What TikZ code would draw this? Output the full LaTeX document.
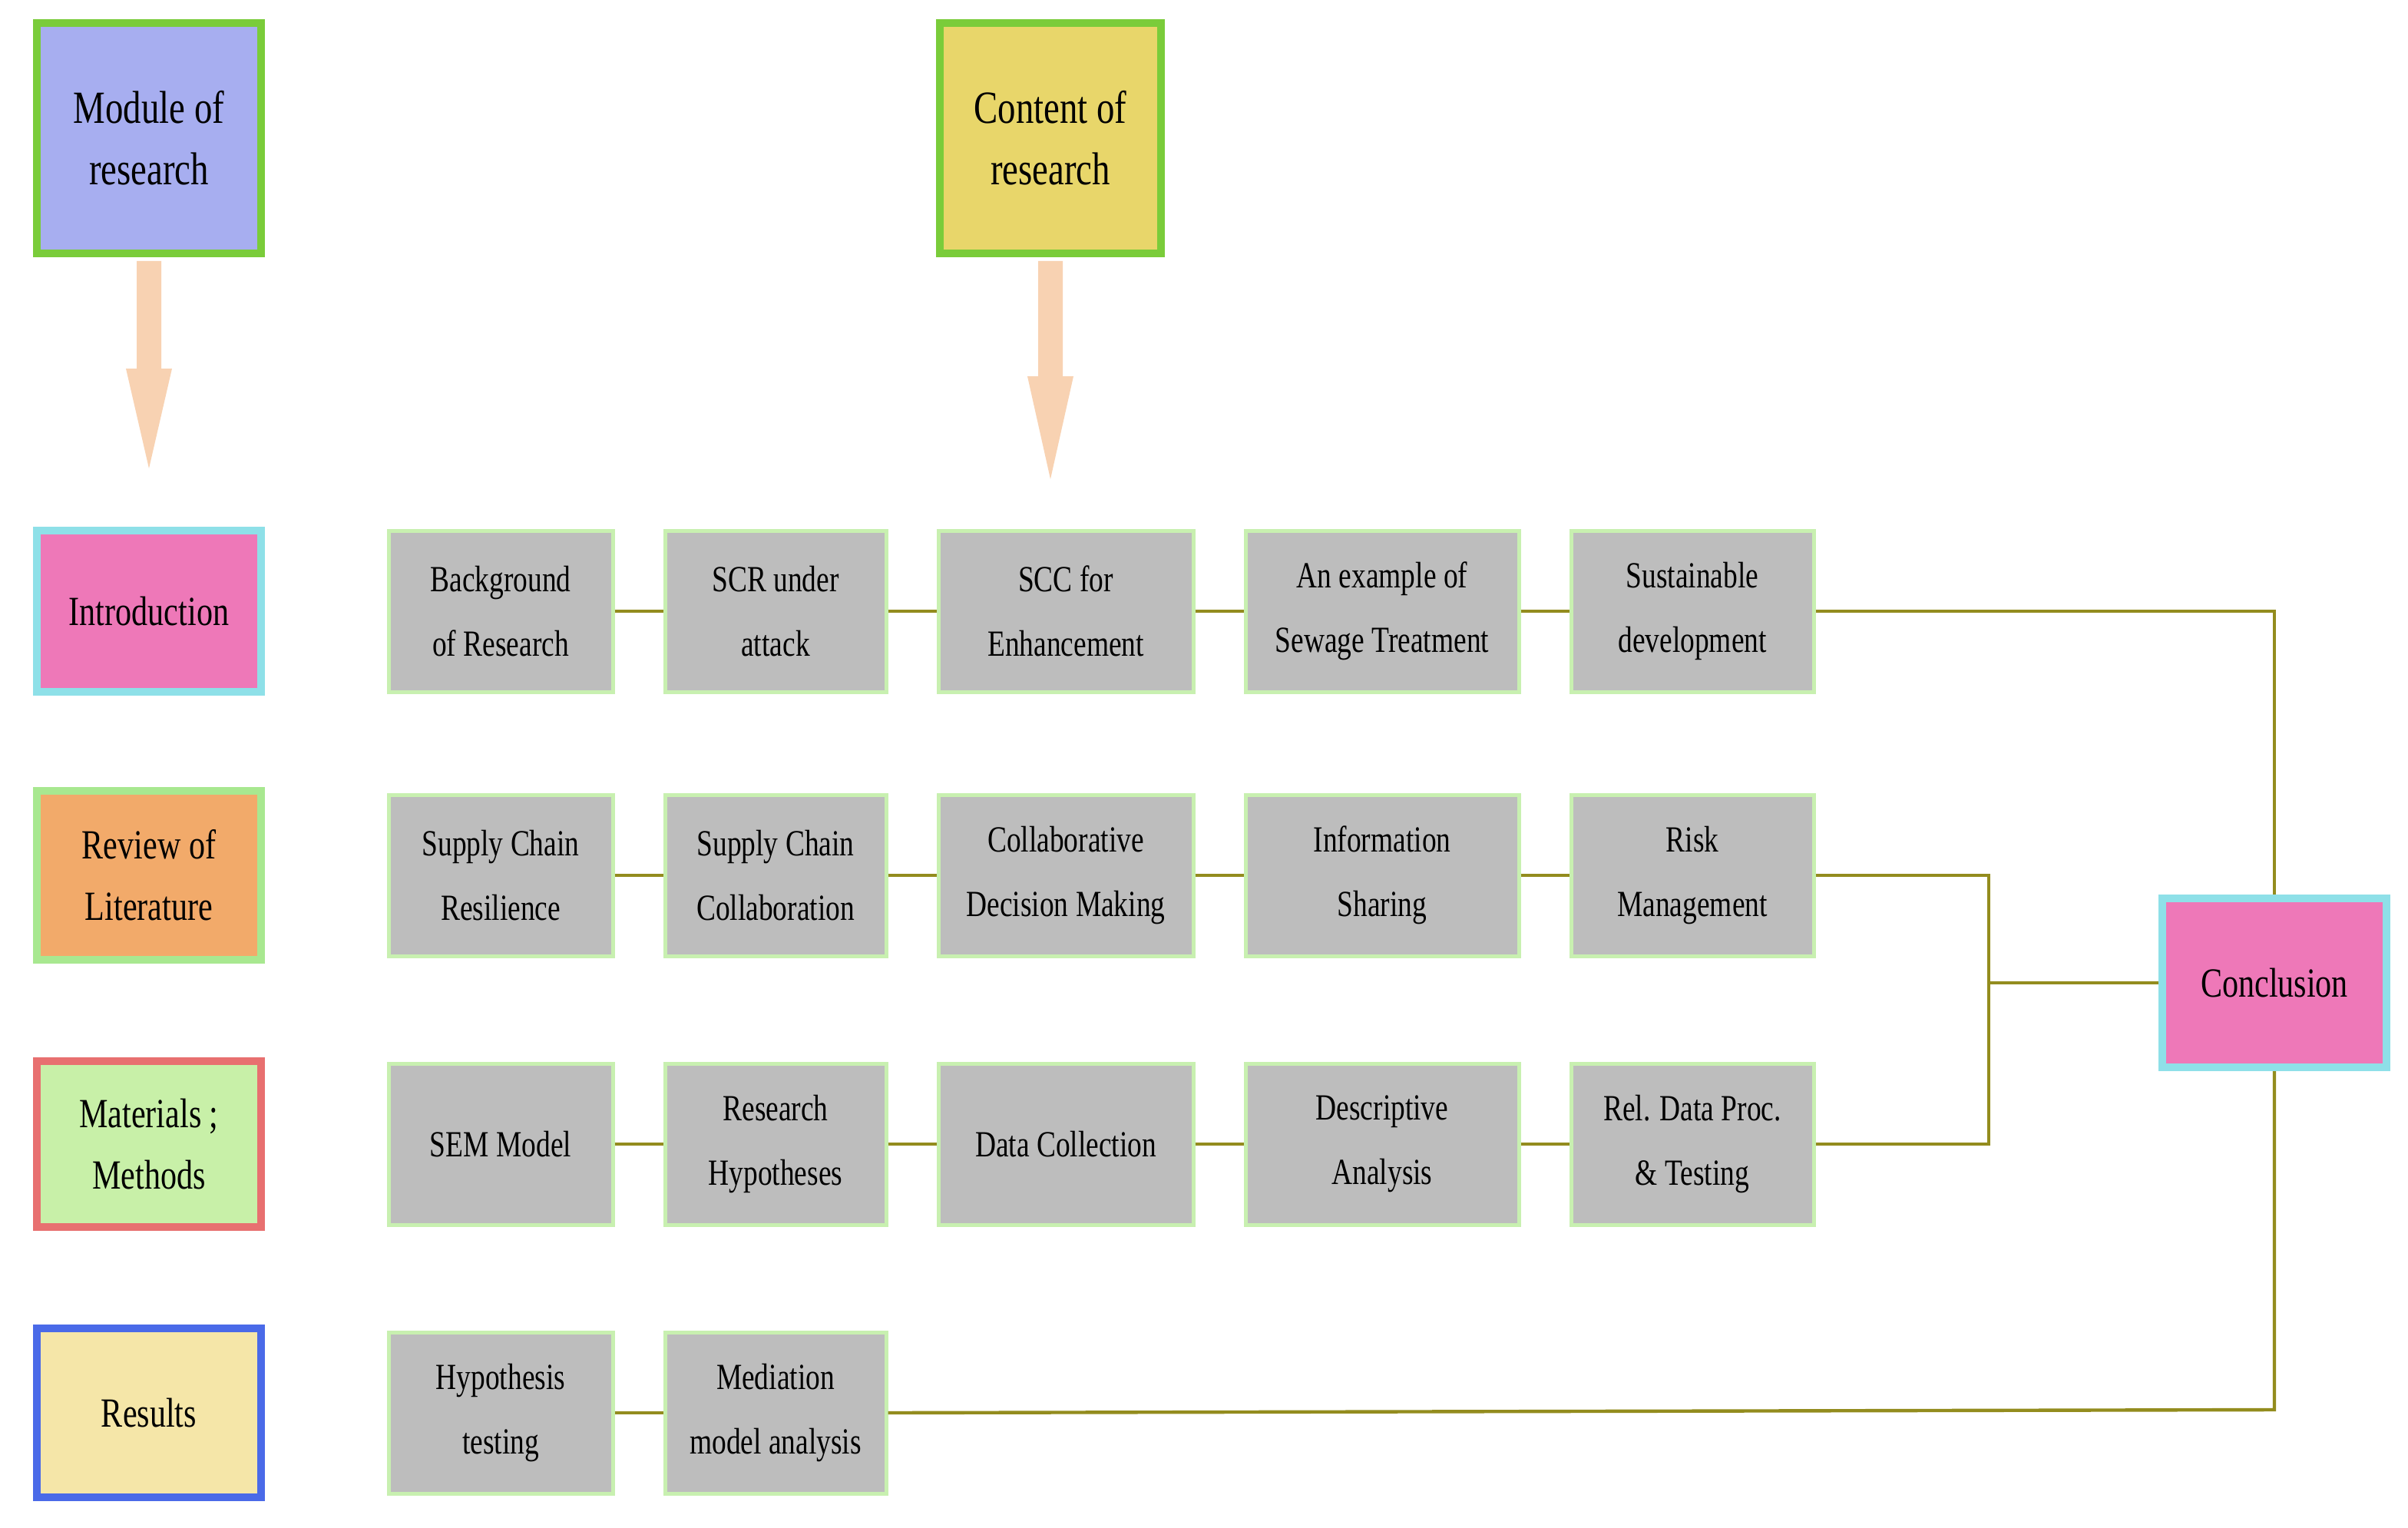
\documentclass[tikz,border=0pt]{standalone}
\usepackage{fontspec}
\setmainfont{Liberation Serif}[FakeStretch=0.78]
\begin{document}
\begin{tikzpicture}[x=1pt,y=-1pt,
  hdr/.style={draw=green!60!black!60!lime, line width=5pt, align=center, font=\fontsize{30}{40}\selectfont, inner sep=0pt},
  lab/.style={line width=5pt, align=center, font=\fontsize{27}{40}\selectfont, inner sep=0pt},
  cell/.style={draw=cellb, fill=cellg, line width=2.5pt, align=center, font=\fontsize{24}{42}\selectfont, inner sep=0pt, minimum height=105pt},
  con/.style={draw=olive!70!yellow!80!black, line width=2.2pt},
  bigarr/.style={draw=none, fill=peach}]
\definecolor{cellg}{HTML}{BDBDBD}\definecolor{cellb}{HTML}{C8F0B0}
\definecolor{peach}{HTML}{F8D2B2}\definecolor{pinkf}{HTML}{EE78B8}\definecolor{cyanb}{HTML}{8EE0E8}
\colorlet{olive}{olive}
\useasboundingbox (0,0) rectangle (1568,995);
\fill[white] (0,0) rectangle (1568,995);
% headers
\node[hdr, draw=green!70!black!70, draw={rgb,255:red,122;green,204;blue,58}, fill={rgb,255:red,167;green,174;blue,240}, minimum width=146pt, minimum height=150pt] (mod) at (97,90) {Module of\\research};
\node[hdr, draw={rgb,255:red,122;green,204;blue,58}, fill={rgb,255:red,232;green,214;blue,106}, minimum width=144pt, minimum height=150pt] (cont) at (684,90) {Content of\\research};
\fill[peach] (89,170) -- (105,170) -- (105,240) -- (112,240) -- (97,305) -- (82,240) -- (89,240) -- cycle;
\fill[peach] (676,170) -- (692,170) -- (692,245) -- (699,245) -- (684,312) -- (669,245) -- (676,245) -- cycle;
% left labels
\node[lab, draw=cyanb, fill=pinkf, minimum width=146pt, minimum height=105pt] (intro) at (97,398) {Introduction};
\node[lab, draw={rgb,255:red,168;green,232;blue,144}, fill={rgb,255:red,242;green,170;blue,106}, minimum width=146pt, minimum height=110pt] (rev) at (97,570) {Review of\\Literature};
\node[lab, draw={rgb,255:red,232;green,112;blue,112}, fill={rgb,255:red,200;green,240;blue,168}, minimum width=146pt, minimum height=108pt] (mat) at (97,745) {Materials ;\\Methods};
\node[lab, draw={rgb,255:red,74;green,106;blue,232}, fill={rgb,255:red,245;green,230;blue,168}, minimum width=146pt, minimum height=110pt] (res) at (97,920) {Results};
% cells
\foreach \r/\y/\a/\b/\c/\d/\e in {1/398/Background\\of Research/SCR under\\attack/SCC for\\Enhancement/An example of\\Sewage Treatment/Sustainable\\development,
  2/570/Supply Chain\\Resilience/Supply Chain\\Collaboration/Collaborative\\Decision Making/Information\\Sharing/Risk\\Management,
  3/745/SEM Model/Research\\Hypotheses/Data Collection/Descriptive\\Analysis/Rel. Data Proc.\\\& Testing}{
  \node[cell, minimum width=146pt] (c\r1) at (326,\y) {\a};
  \node[cell, minimum width=144pt] (c\r2) at (505,\y) {\b};
  \node[cell, minimum width=166pt] (c\r3) at (694,\y) {\c};
  \node[cell, minimum width=178pt] (c\r4) at (900,\y) {\d};
  \node[cell, minimum width=158pt] (c\r5) at (1102,\y) {\e};
  \draw[con] (c\r1) -- (c\r2); \draw[con] (c\r2) -- (c\r3); \draw[con] (c\r3) -- (c\r4); \draw[con] (c\r4) -- (c\r5);
}
\node[cell, minimum width=146pt] (c41) at (326,920) {Hypothesis\\testing};
\node[cell, minimum width=144pt] (c42) at (505,920) {Mediation\\model analysis};
\draw[con] (c41) -- (c42);
\node[lab, draw=cyanb, fill=pinkf, minimum width=146pt, minimum height=110pt] (conc) at (1481,640) {Conclusion};
\coordinate (j) at (1295,640);
\draw[con] (c15.east) -- (1481,398) -- (conc.north);
\draw[con] (c25.east) -- (1295,570) -- (1295,745) -- (c35.east);
\draw[con] (j) -- (conc.west);
\draw[con] (c42.east) -- (1481,918) -- (conc.south);
\end{tikzpicture}
\end{document}
